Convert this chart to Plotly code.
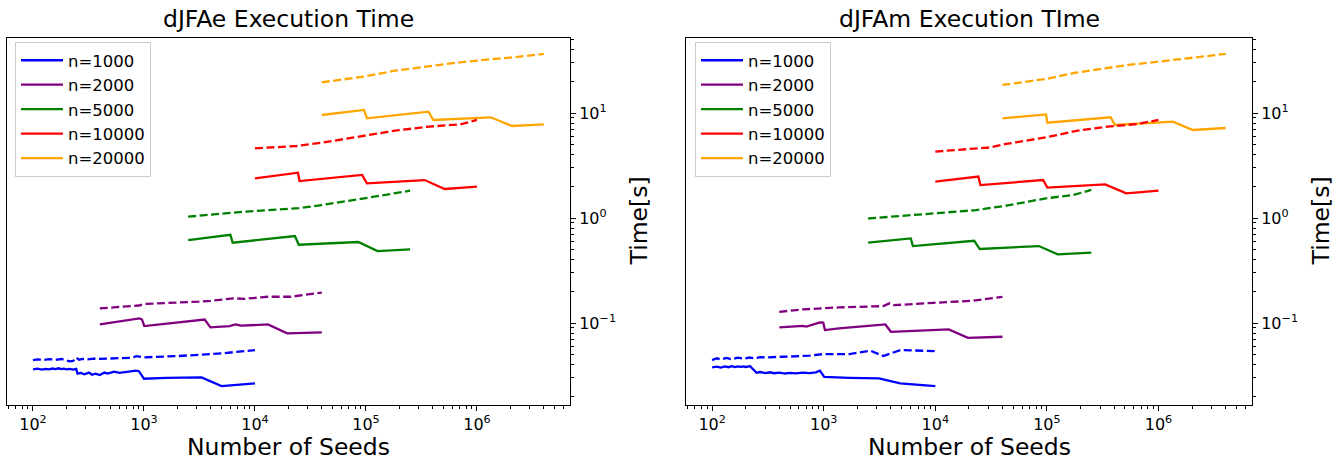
import plotly.graph_objects as go

# ---------------- data: dJFAe (left panel) ----------------
e_1000_x = [100, 110, 120, 130, 140, 150, 160, 170, 180, 190, 200, 215, 230, 245, 252, 270, 290, 320, 340, 365, 400, 440, 470, 540, 600, 700, 850, 900, 1000, 1600, 3300, 5000, 10000]
e_1000_y = [0.0362, 0.0368, 0.0360, 0.0366, 0.0362, 0.0369, 0.0364, 0.0371, 0.0365, 0.0368, 0.0363, 0.0367, 0.0361, 0.0366, 0.0330, 0.0335, 0.0325, 0.0338, 0.0322, 0.0330, 0.0320, 0.0338, 0.0330, 0.0345, 0.0336, 0.0342, 0.0352, 0.0348, 0.0295, 0.0301, 0.0304, 0.0251, 0.0267]
e_1000_dx = [100, 110, 125, 140, 160, 180, 200, 215, 230, 245, 260, 280, 310, 350, 400, 450, 500, 600, 700, 800, 850, 1000, 2000, 3300, 5000, 10000]
e_1000_dy = [0.0444, 0.0452, 0.0446, 0.0454, 0.0447, 0.0455, 0.0440, 0.0432, 0.0436, 0.0470, 0.0448, 0.0455, 0.0452, 0.0458, 0.0456, 0.0462, 0.0460, 0.0464, 0.0466, 0.0468, 0.0485, 0.0472, 0.0485, 0.0500, 0.0515, 0.0553]

e_2000_x = [400, 910, 960, 1007, 3520, 3970, 5900, 6670, 7500, 13100, 19500, 40000]
e_2000_y = [0.097, 0.1106, 0.108, 0.0936, 0.108, 0.0909, 0.0936, 0.097, 0.0944, 0.097, 0.0798, 0.0815]
e_2000_dx = [400, 600, 810, 900, 1000, 1500, 3100, 4000, 6400, 8000, 13100, 21000, 40000]
e_2000_dy = [0.138, 0.143, 0.148, 0.147, 0.152, 0.154, 0.160, 0.163, 0.172, 0.170, 0.178, 0.178, 0.195]

e_5000_x = [2500, 6000, 6300, 22900, 24800, 85300, 127000, 250000]
e_5000_y = [0.617, 0.693, 0.582, 0.674, 0.557, 0.591, 0.485, 0.503]
e_5000_dx = [2500, 8130, 24800, 40000, 96200, 143000, 250000]
e_5000_dy = [1.03, 1.15, 1.24, 1.33, 1.54, 1.66, 1.82]

e_10000_x = [10000, 24400, 25200, 92300, 102000, 338000, 512000, 1000000]
e_10000_y = [2.39, 2.70, 2.25, 2.57, 2.14, 2.30, 1.89, 1.99]
e_10000_dx = [10000, 23800, 40000, 96200, 182000, 372000, 705000, 1000000]
e_10000_dy = [4.61, 4.85, 5.21, 6.04, 6.79, 7.42, 7.80, 8.58]

e_20000_x = [40000, 96200, 102000, 366000, 404000, 1330000, 2070000, 4000000]
e_20000_y = [9.57, 10.7, 8.9, 10.3, 8.58, 9.1, 7.52, 7.8]
e_20000_dx = [40000, 96200, 182000, 372000, 705000, 1330000, 2150000, 4000000]
e_20000_dy = [19.6, 22.2, 25.3, 28.0, 30.4, 32.5, 33.9, 36.5]

# ---------------- data: dJFAm (right panel) ----------------
m_1000_x = [100, 110, 120, 130, 140, 150, 160, 170, 180, 190, 200, 219, 250, 270, 300, 330, 360, 400, 450, 500, 560, 650, 750, 850, 925, 1010, 1700, 3130, 4850, 10000]
m_1000_y = [0.0379, 0.0385, 0.0377, 0.0386, 0.0380, 0.0388, 0.0381, 0.0387, 0.0383, 0.0386, 0.0382, 0.0389, 0.0337, 0.0342, 0.0334, 0.0340, 0.0333, 0.0338, 0.0331, 0.0336, 0.0332, 0.0337, 0.0334, 0.0340, 0.0352, 0.0308, 0.0301, 0.0297, 0.0267, 0.0251]
m_1000_dx = [100, 110, 120, 135, 150, 170, 190, 215, 240, 270, 300, 350, 420, 500, 600, 750, 1000, 1700, 2630, 3420, 4850, 10000]
m_1000_dy = [0.0444, 0.0462, 0.0450, 0.0465, 0.0452, 0.0468, 0.0458, 0.0470, 0.0462, 0.0474, 0.0470, 0.0476, 0.0478, 0.0480, 0.0484, 0.0490, 0.0507, 0.0507, 0.0545, 0.0486, 0.0553, 0.0541]

m_2000_x = [400, 650, 700, 925, 990, 1026, 1370, 3570, 4000, 13200, 19600, 40000]
m_2000_y = [0.0909, 0.0940, 0.0925, 0.1016, 0.101, 0.0857, 0.0889, 0.097, 0.0826, 0.0871, 0.0724, 0.0741]
m_2000_dx = [400, 650, 1370, 3420, 3900, 4260, 9750, 21400, 40000]
m_2000_dy = [0.128, 0.135, 0.141, 0.145, 0.154, 0.148, 0.156, 0.163, 0.178]

m_5000_x = [2500, 6030, 6300, 22300, 25000, 84700, 125000, 250000]
m_5000_y = [0.582, 0.640, 0.541, 0.608, 0.507, 0.541, 0.451, 0.468]
m_5000_dx = [2500, 9750, 23300, 43000, 98200, 173000, 250000]
m_5000_dy = [0.99, 1.11, 1.19, 1.31, 1.54, 1.66, 1.85]

m_10000_x = [10000, 24300, 25400, 92500, 101000, 333000, 515000, 1000000]
m_10000_y = [2.22, 2.48, 2.06, 2.30, 1.95, 2.09, 1.72, 1.82]
m_10000_dx = [10000, 31600, 43000, 98200, 189000, 348000, 641000, 1000000]
m_10000_dy = [4.29, 4.71, 5.07, 5.87, 6.79, 7.42, 7.85, 8.58]

m_20000_x = [40000, 98200, 101000, 373000, 407000, 1350000, 2030000, 4000000]
m_20000_y = [8.9, 9.7, 8.09, 9.1, 7.69, 8.26, 6.89, 7.2]
m_20000_dx = [40000, 98200, 181000, 319000, 538000, 991000, 1990000, 4000000]
m_20000_dy = [18.5, 21.1, 24.2, 26.6, 28.7, 30.8, 33.6, 36.5]

labels = ["n=1000", "n=2000", "n=5000", "n=10000", "n=20000"]
colors = ["#0000ff", "#800080", "#008000", "#ff0000", "#ffa500"]
titles = ["dJFAe Execution Time", "dJFAm Execution TIme"]
x_title = "Number of Seeds"
y_title = "Time[s]"

left = [(e_1000_x, e_1000_y, e_1000_dx, e_1000_dy), (e_2000_x, e_2000_y, e_2000_dx, e_2000_dy),
        (e_5000_x, e_5000_y, e_5000_dx, e_5000_dy), (e_10000_x, e_10000_y, e_10000_dx, e_10000_dy),
        (e_20000_x, e_20000_y, e_20000_dx, e_20000_dy)]
right = [(m_1000_x, m_1000_y, m_1000_dx, m_1000_dy), (m_2000_x, m_2000_y, m_2000_dx, m_2000_dy),
         (m_5000_x, m_5000_y, m_5000_dx, m_5000_dy), (m_10000_x, m_10000_y, m_10000_dx, m_10000_dy),
         (m_20000_x, m_20000_y, m_20000_dx, m_20000_dy)]

FONT = "DejaVu Sans"
W, H = 1338, 464
LW = 2.3
fig = go.Figure()

for panel, data in enumerate([left, right]):
    xa = "x" if panel == 0 else "x2"
    ya = "y" if panel == 0 else "y2"
    lg = "legend" if panel == 0 else "legend2"
    for i, (sx, sy, dx, dy) in enumerate(data):
        fig.add_trace(go.Scatter(x=sx, y=sy, mode="lines", name=labels[i],
                                 line=dict(color=colors[i], width=LW),
                                 xaxis=xa, yaxis=ya, legend=lg, showlegend=True))
    for i, (sx, sy, dx, dy) in enumerate(data):
        fig.add_trace(go.Scatter(x=dx, y=dy, mode="lines", name=labels[i] + " dashed",
                                 line=dict(color=colors[i], width=LW, dash="8px,3.5px"),
                                 xaxis=xa, yaxis=ya, legend=lg, showlegend=False))

xt = [10 ** k for k in range(2, 7)]
xtt = ["10<sup>%d</sup>" % k for k in range(2, 7)]
xminor = [m * 10 ** k for k in range(1, 7) for m in range(2, 10)]
yt = [0.1, 1, 10]
ytt = ["10<sup>\u22121</sup>", "10<sup>0</sup>", "10<sup>1</sup>"]
yminor = [m * 10 ** k for k in range(-2, 2) for m in range(2, 10)]

common_x = dict(type="log", range=[1.766, 6.838], tickmode="array", tickvals=xt, ticktext=xtt,
                ticks="outside", ticklen=5, tickwidth=1, tickcolor="black",
                minor=dict(tickmode="array", tickvals=xminor, ticks="outside", ticklen=3, tickwidth=1, tickcolor="black"),
                showline=True, linecolor="black", linewidth=1, mirror=True, showgrid=False, zeroline=False,
                tickfont=dict(family=FONT, size=16, color="black"))
common_y = dict(type="log", range=[-1.78, 1.714], tickmode="array", tickvals=yt, ticktext=ytt,
                side="right", ticks="outside", ticklen=5, tickwidth=1, tickcolor="black",
                minor=dict(tickmode="array", tickvals=yminor, ticks="outside", ticklen=3, tickwidth=1, tickcolor="black"),
                showline=True, linecolor="black", linewidth=1, mirror=True, showgrid=False, zeroline=False,
                tickfont=dict(family=FONT, size=16, color="black"))

L, R, T, B = 7, 86, 38, 59
pw = W - L - R
ph = H - T - B
d1 = [0, (570 - L) / pw]
d2 = [(686 - L) / pw, 1]

legend_style = dict(xanchor="left", yanchor="top", itemwidth=42,
                    bgcolor="rgba(255,255,255,0.8)", bordercolor="#cccccc", borderwidth=1,
                    font=dict(family=FONT, size=16.5, color="black"))

fig.update_layout(
    width=W, height=H, margin=dict(l=L, r=R, t=T, b=B),
    paper_bgcolor="white", plot_bgcolor="white",
    font=dict(family=FONT, color="black"),
    xaxis=dict(domain=d1, anchor="y", **common_x),
    yaxis=dict(domain=[0, 1], anchor="x", **common_y),
    xaxis2=dict(domain=d2, anchor="y2", **common_x),
    yaxis2=dict(domain=[0, 1], anchor="x2", **common_y),
    legend=dict(x=(15 - L) / pw, y=1 - (42 - T) / ph, **legend_style),
    legend2=dict(x=(695 - L) / pw, y=1 - (42 - T) / ph, **legend_style),
    showlegend=True,
)

for panel, dom in enumerate([d1, d2]):
    cx = (dom[0] + dom[1]) / 2
    # subplot title
    fig.add_annotation(text=titles[panel], xref="paper", yref="paper",
                       x=cx, y=1, xanchor="center", yanchor="bottom", yshift=3,
                       showarrow=False, font=dict(family=FONT, size=23.5, color="black"))
    # x-axis title
    fig.add_annotation(text=x_title, xref="paper", yref="paper",
                       x=cx, y=0, xanchor="center", yanchor="top", yshift=-26,
                       showarrow=False, font=dict(family=FONT, size=23.5, color="black"))
    # y-axis title (right side, rotated)
    fig.add_annotation(text=y_title, xref="paper", yref="paper",
                       x=dom[1], y=0.5, xanchor="left", yanchor="middle", xshift=52,
                       textangle=-90, showarrow=False,
                       font=dict(family=FONT, size=23.5, color="black"))

# remove the browser's default page margin so the figure fills the window exactly
fig.write_html("out.html", config={"displayModeBar": False},
               post_script="document.body.style.margin='0px';document.body.style.overflow='hidden';")
